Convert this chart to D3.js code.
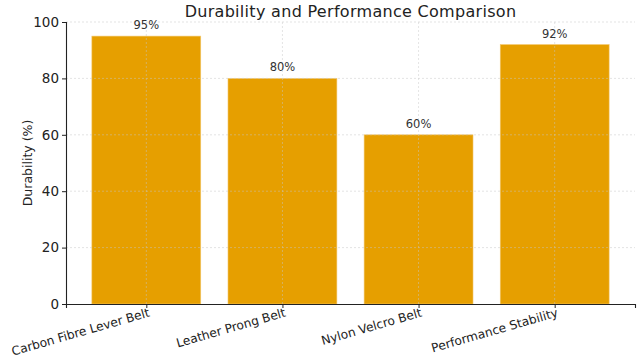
<!DOCTYPE html>
<html><head><meta charset="utf-8">
<script src="https://cdn.jsdelivr.net/npm/d3@7"></script>
<style>body{margin:0;background:#fff}svg{display:block}text{font-family:"DejaVu Sans",sans-serif}</style>
</head><body><svg id="c" width="642" height="364"></svg>
<script>
const categories = ["Carbon Fibre Lever Belt","Leather Prong Belt","Nylon Velcro Belt","Performance Stability"];
const values = [95, 80, 60, 92];
const yTicks = [0, 20, 40, 60, 80, 100];
const title = "Durability and Performance Comparison";
const yLabel = "Durability (%)";

const svg = d3.select("#c");
const L = 66, R = 635, T = 22, B = 304;
const x = d3.scaleLinear().domain([-0.59, categories.length - 1 + 0.59]).range([L, R]);
const y = d3.scaleLinear().domain([0, 100]).range([B, T]);
const bw = x(0.4) - x(-0.4);

// bars
svg.append("g").selectAll("rect").data(values).join("rect")
  .attr("x", (d, i) => x(i) - bw / 2).attr("width", bw)
  .attr("y", d => y(d)).attr("height", d => y(0) - y(d))
  .attr("fill", "#E69F00").attr("stroke", "#f3c870").attr("stroke-width", 0.6);

// grid
const g = svg.append("g").attr("stroke", "#c8c8c8").attr("stroke-width", 0.6).attr("stroke-dasharray", "2,2").attr("opacity", 0.8);
g.selectAll(".h").data(yTicks.slice(1)).join("line").attr("x1", L).attr("x2", R).attr("y1", d => y(d)).attr("y2", d => y(d));
g.selectAll(".v").data(categories).join("line").attr("y1", T).attr("y2", B).attr("x1", (d, i) => x(i)).attr("x2", (d, i) => x(i));

// axes
const yAxis = svg.append("g").attr("transform", `translate(${L},0)`)
  .call(d3.axisLeft(y).tickValues(yTicks).tickSize(4).tickPadding(3));
yAxis.select(".domain").attr("stroke", "#222").attr("stroke-width", 1.1);
yAxis.selectAll("text").attr("font-size", 13.5).attr("fill", "#222");
yAxis.selectAll(".tick line").attr("stroke", "#222");

const xAxis = svg.append("g").attr("transform", `translate(0,${B})`)
  .call(d3.axisBottom(x).tickValues(d3.range(categories.length)).tickFormat(i => categories[i]).tickSize(4));
xAxis.select(".domain").attr("stroke", "#222").attr("stroke-width", 1.1);
xAxis.selectAll(".tick line").attr("stroke", "#222");
xAxis.selectAll("text").attr("font-size", 12.2).attr("fill", "#222")
  .attr("text-anchor", "end").attr("x", 1).attr("y", 3.5).attr("dy", "0.75em")
  .attr("transform", "rotate(-16, 1, 3.5)");

// value labels
svg.append("g").selectAll("text").data(values).join("text")
  .attr("x", (d, i) => x(i)).attr("y", d => y(d) - 7)
  .attr("text-anchor", "middle").attr("font-size", 11.5).attr("fill", "#333")
  .text(d => d + "%");

svg.append("text").attr("x", (L + R) / 2).attr("y", 17).attr("text-anchor", "middle")
  .attr("font-size", 16).attr("fill", "#222").attr("letter-spacing", 0.3).text(title);

svg.append("text").attr("transform", `translate(32,${(T + B) / 2}) rotate(-90)`)
  .attr("text-anchor", "middle").attr("font-size", 12.5).attr("fill", "#222")
  .attr("font-family", "'DejaVu Sans Condensed','DejaVu Sans',sans-serif").text(yLabel);
</script></body></html>
